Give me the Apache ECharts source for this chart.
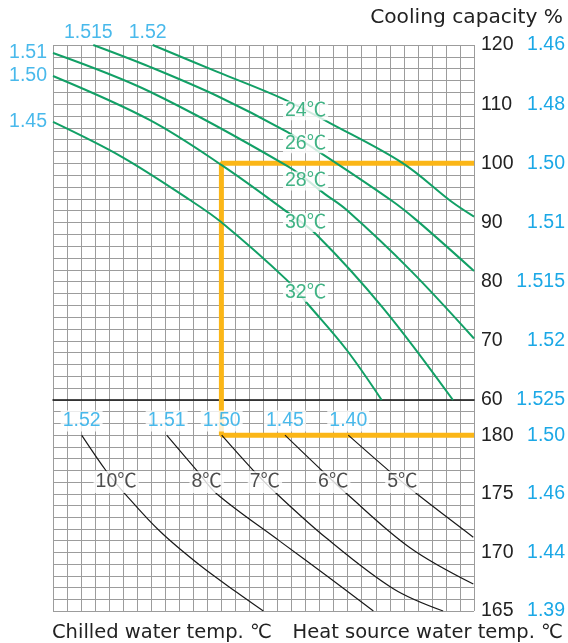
<!DOCTYPE html>
<html>
<head>
<meta charset="utf-8">
<script src="https://cdn.jsdelivr.net/npm/echarts@6/dist/echarts.min.js"></script>
<style>
html, body { margin: 0; padding: 0; background: #fff; }
#main { width: 568px; height: 643px; }
</style>
</head>
<body>
<div id="main"></div>
<script>
// right axis of the upper chart: cooling capacity % and the ratio written next to it
var capTicks = [60, 70, 80, 90, 100, 110, 120];
var capRatios = ['1.525', '1.52', '1.515', '1.51', '1.50', '1.48', '1.46'];
// right axis of the lower chart
var heatTicks = [165, 170, 175, 180];
var heatRatios = ['1.39', '1.44', '1.46', '1.50'];

// upper chart: cooling water curves (x = grid column 0..30, y = capacity %)
var coolNames = ['24℃', '26℃', '28℃', '30℃', '32℃'];
var coolRatios = ['1.52', '1.515', '1.51', '1.50', '1.45'];
var cool24 = [[7.1, 120], [11.67, 115.5], [16.39, 110.9], [19.74, 106.8], [24.94, 100.0], [28.36, 93.6], [30, 91.0]];
var cool26 = [[2.87, 120], [6.91, 116.3], [11.78, 111.3], [16.65, 105.35], [19.5, 101.1], [24.07, 93.8], [25.9, 90.4], [30, 81.8]];
var cool28 = [[0, 118.65], [6.91, 112.1], [16.77, 99.43], [19.38, 94.8], [20.93, 92.1], [25.44, 82], [30, 70.4]];
var cool30 = [[0, 114.76], [6.91, 107.3], [12.02, 99.7], [16.65, 91.83], [18.8, 87.9], [23.54, 75.5], [28.5, 60]];
var cool32 = [[0, 107], [4.9, 101.1], [9.76, 93.8], [12.02, 90], [16.65, 80.3], [18.31, 75.8], [20.93, 68.45], [23.42, 60]];
var coolCurves = [cool24, cool26, cool28, cool30, cool32];
var coolLabelAt = [[18, 108.9], [18, 103.3], [18, 97.0], [18, 90.0], [18, 78.2]];

// lower chart: chilled water curves
var chillNames = ['10℃', '8℃', '7℃', '6℃', '5℃'];
var chillRatios = ['1.52', '1.51', '1.50', '1.45', '1.40'];
var chill10 = [[2.04, 180], [3.82, 176.9], [5.13, 175], [7.62, 171.8], [10.47, 168.9], [13.09, 166.6], [14.99, 165]];
var chill8 = [[8.1, 180], [10.24, 177], [11.66, 175], [16.18, 170.94], [19.5, 168], [22.83, 165]];
var chill7 = [[12.02, 180], [14.27, 177], [15.94, 175], [19.5, 171.2], [24.25, 166.9], [27.8, 165]];
var chill6 = [[16.53, 180], [19.15, 177], [20.93, 175], [25.44, 170.4], [29.95, 167.3]];
var chill5 = [[21.04, 180], [23.9, 177], [25.92, 175], [29.95, 171.3]];
var chillCurves = [chill10, chill8, chill7, chill6, chill5];
var chillLabelX = [4.5, 10.95, 15.1, 19.97, 24.9];
var chillLabelY = 176;
var chillRatioY = 181.2;

// operating point path
var opUpper = [[30, 100], [12, 100], [12, 60]];
var opLower = [[12, 183], [12, 180], [30, 180]];

var GREEN = '#12a066';
var BLUE = '#1ba8e6';
var ORANGE = '#fbb617';
var GRID = '#9c9c9c';
var NUM = "'Liberation Sans', 'Noto Sans CJK KR', sans-serif";
var TITLE = "'DejaVu Sans', sans-serif";

var chart = echarts.init(document.getElementById('main'));

function gridX(idx, blackLine) {
  return {
    gridIndex: idx, type: 'value', min: 0, max: 30, interval: 1,
    axisLabel: { show: false }, axisTick: { show: false },
    axisLine: { show: blackLine, onZero: false, lineStyle: { color: '#111', width: 1.5 } },
    splitLine: { show: true, lineStyle: { color: GRID, width: 1 } }
  };
}

function rightAxis(idx, min, max, step, ticks, ratios) {
  return {
    gridIndex: idx, type: 'value', position: 'right', min: min, max: max, interval: step,
    axisLine: { show: false }, axisTick: { show: false },
    splitLine: { show: true, lineStyle: { color: GRID, width: 1 } },
    axisLabel: {
      margin: 7,
      formatter: function (v) {
        var i = ticks.indexOf(v);
        return i < 0 ? '' : '{a|' + v + '}{b|' + ratios[i] + '}';
      },
      rich: {
        a: { color: '#222', fontSize: 19.5, width: 36, fontFamily: NUM },
        b: { color: BLUE, fontSize: 19.5, width: 48, align: 'right', fontFamily: NUM }
      }
    }
  };
}

var series = [];

series.push({
  type: 'line', xAxisIndex: 0, yAxisIndex: 0, data: opUpper, symbol: 'none',
  lineStyle: { color: ORANGE, width: 5 }, z: 2, silent: true
});
series.push({
  type: 'line', xAxisIndex: 1, yAxisIndex: 1, data: opLower, symbol: 'none',
  lineStyle: { color: ORANGE, width: 5 }, z: 2, silent: true
});

coolCurves.forEach(function (d, i) {
  series.push({
    type: 'line', name: coolNames[i], xAxisIndex: 0, yAxisIndex: 0, data: d,
    smooth: 0.35, symbol: 'none', lineStyle: { color: GREEN, width: 2 }, z: 3
  });
});
chillCurves.forEach(function (d, i) {
  series.push({
    type: 'line', name: chillNames[i], xAxisIndex: 1, yAxisIndex: 1, data: d,
    smooth: 0.35, symbol: 'none', lineStyle: { color: '#1a1a1a', width: 1.2 }, z: 3
  });
});

// temperature labels sitting on the curves
series.push({
  type: 'scatter', xAxisIndex: 0, yAxisIndex: 0, symbolSize: 0, z: 6,
  data: coolLabelAt.map(function (p, i) { return { value: p, name: coolNames[i] }; }),
  label: {
    show: true, position: 'inside', formatter: '{b}', color: GREEN, fontSize: 19.5,
    fontFamily: NUM, backgroundColor: '#fff', padding: [0, 2], lineHeight: 19
  }
});
series.push({
  type: 'scatter', xAxisIndex: 1, yAxisIndex: 1, symbolSize: 0, z: 6,
  data: chillLabelX.map(function (x, i) { return { value: [x, chillLabelY], name: chillNames[i] }; }),
  label: {
    show: true, position: 'inside', formatter: '{b}', color: '#222', fontSize: 19.5,
    fontFamily: NUM, backgroundColor: '#fff', padding: [1, 2], lineHeight: 20
  }
});

// ratio labels at the start of each curve
series.push({
  type: 'scatter', xAxisIndex: 0, yAxisIndex: 0, symbolSize: 0, z: 6,
  data: coolCurves.map(function (d, i) {
    var onLeft = d[0][0] === 0;
    return {
      value: d[0], name: coolRatios[i],
      label: onLeft ? { position: 'left', distance: 6 } : { position: 'top', distance: 3, offset: [-5, 0] }
    };
  }),
  label: { show: true, formatter: '{b}', color: BLUE, fontSize: 19.5, fontFamily: NUM }
});
series.push({
  type: 'scatter', xAxisIndex: 1, yAxisIndex: 1, symbolSize: 0, z: 6,
  data: chillCurves.map(function (d, i) { return { value: [d[0][0], chillRatioY], name: chillRatios[i] }; }),
  label: {
    show: true, position: 'inside', formatter: '{b}', color: BLUE, fontSize: 19.5,
    fontFamily: NUM, backgroundColor: '#fff', padding: [1, 2], lineHeight: 19
  }
});

chart.setOption({
  animation: false,
  textStyle: { fontFamily: NUM },
  grid: [
    { left: 53, top: 45, width: 421, height: 355 },
    { left: 53, top: 400, width: 421, height: 211 }
  ],
  xAxis: [gridX(0, true), gridX(1, false)],
  yAxis: [
    rightAxis(0, 60, 120, 2, capTicks, capRatios),
    rightAxis(1, 165, 183, 1, heatTicks, heatRatios)
  ],
  graphic: [
    { type: 'text', right: 5, top: 8, style: { text: 'Cooling capacity %', font: '20.2px ' + TITLE, fill: '#222' } },
    { type: 'text', left: 52, top: 623, style: { text: 'Chilled water temp. ℃', font: '19.5px ' + TITLE, fill: '#222' } },
    { type: 'text', right: 5, top: 623, style: { text: 'Heat source water temp. ℃', font: '19.5px ' + TITLE, fill: '#222' } }
  ],
  series: series
});
</script>
</body>
</html>
